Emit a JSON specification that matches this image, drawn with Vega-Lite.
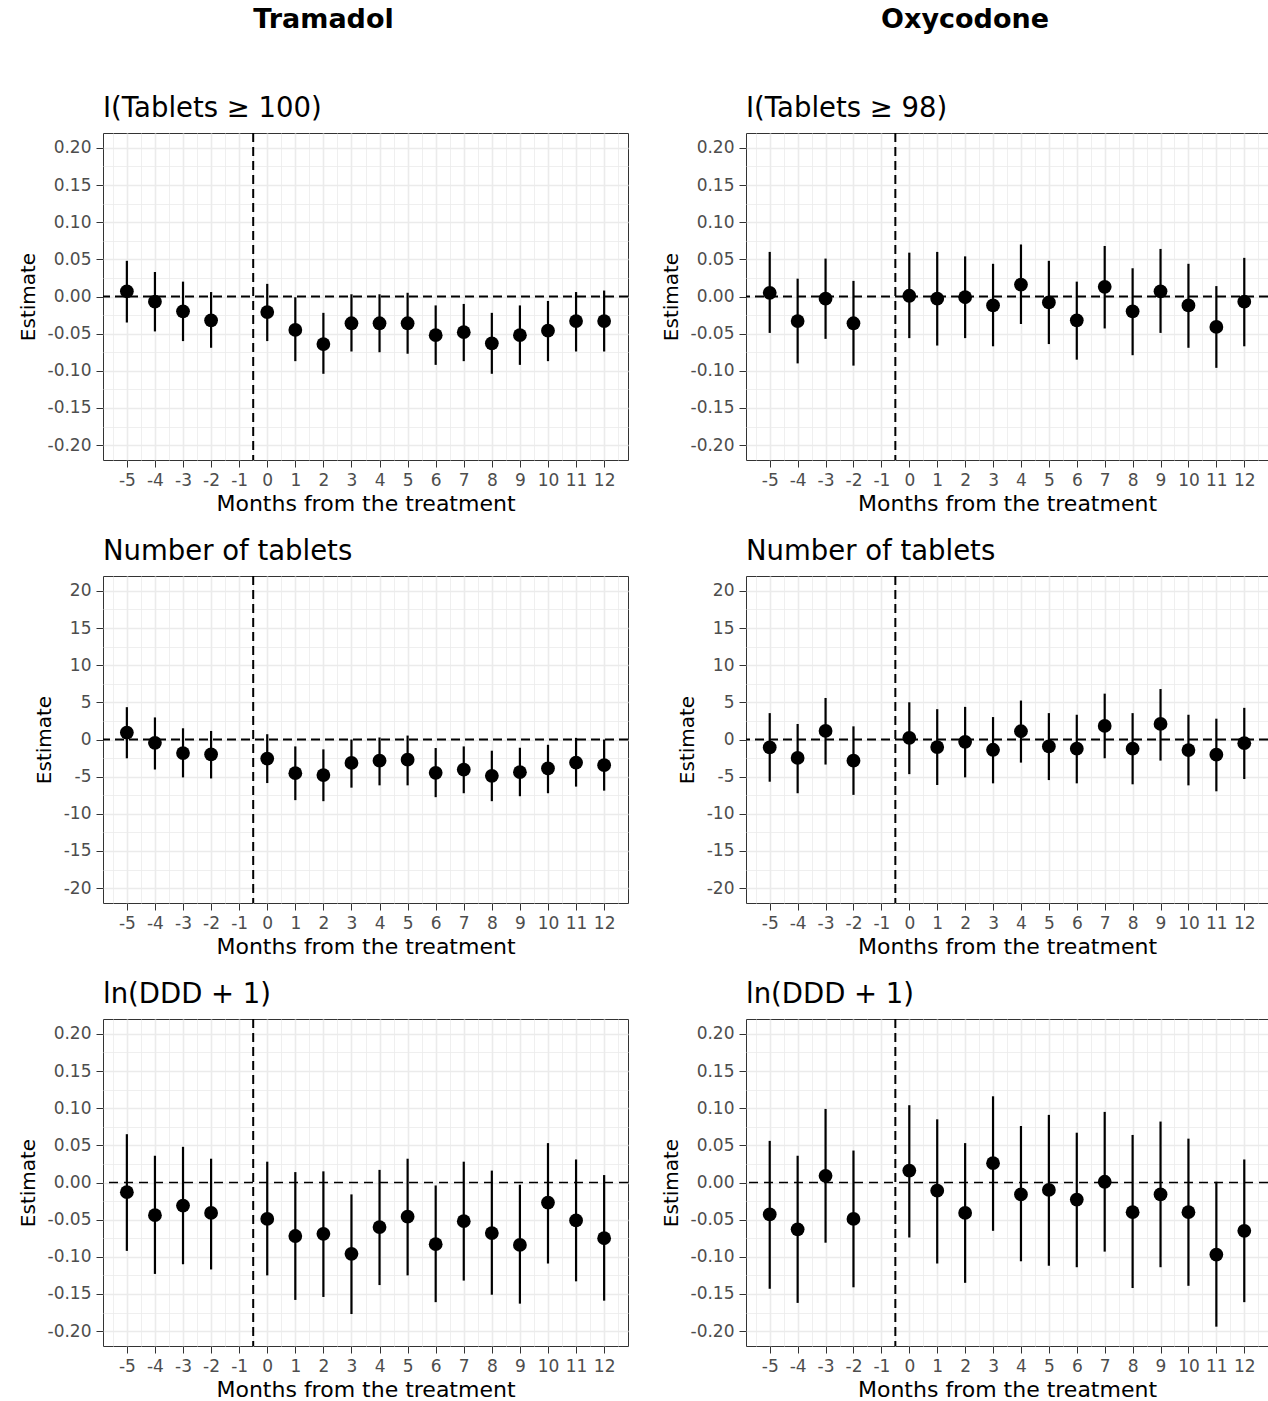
{
  "$schema": "https://vega.github.io/schema/vega-lite/v6.json",
  "background": "white",
  "padding": {"left": 17, "top": 6, "right": 0, "bottom": 0},
  "config": {
    "font": "DejaVu Sans",
    "view": {"stroke": "#333333", "strokeWidth": 1},
    "axis": {
      "domain": false,
      "grid": true,
      "ticks": true,
      "labels": true,
      "labelFont": "DejaVu Sans",
      "labelFontSize": 17,
      "labelColor": "#4D4D4D",
      "tickColor": "#333333",
      "tickSize": 7,
      "tickWidth": 1,
      "labelPadding": 5,
      "gridColor": "#EBEBEB",
      "titleFont": "DejaVu Sans",
      "titleFontWeight": "normal",
      "titleColor": "black",
      "labelOverlap": false,
      "labelFlush": false,
      "labelBound": false
    },
    "title": {"font": "DejaVu Sans", "color": "black"},
    "concat": {"spacing": 30}
  },
  "datasets": {
    "est": [
      {"p": "T1", "m": -5, "est": 0.007, "lo": -0.035, "hi": 0.048},
      {"p": "T1", "m": -4, "est": -0.007, "lo": -0.047, "hi": 0.033},
      {"p": "T1", "m": -3, "est": -0.020, "lo": -0.060, "hi": 0.020},
      {"p": "T1", "m": -2, "est": -0.032, "lo": -0.069, "hi": 0.006},
      {"p": "T1", "m": 0, "est": -0.021, "lo": -0.060, "hi": 0.017},
      {"p": "T1", "m": 1, "est": -0.045, "lo": -0.087, "hi": -0.001},
      {"p": "T1", "m": 2, "est": -0.064, "lo": -0.104, "hi": -0.022},
      {"p": "T1", "m": 3, "est": -0.036, "lo": -0.074, "hi": 0.003},
      {"p": "T1", "m": 4, "est": -0.036, "lo": -0.075, "hi": 0.003},
      {"p": "T1", "m": 5, "est": -0.036, "lo": -0.077, "hi": 0.005},
      {"p": "T1", "m": 6, "est": -0.052, "lo": -0.092, "hi": -0.012},
      {"p": "T1", "m": 7, "est": -0.048, "lo": -0.087, "hi": -0.010},
      {"p": "T1", "m": 8, "est": -0.063, "lo": -0.104, "hi": -0.022},
      {"p": "T1", "m": 9, "est": -0.052, "lo": -0.092, "hi": -0.012},
      {"p": "T1", "m": 10, "est": -0.046, "lo": -0.087, "hi": -0.006},
      {"p": "T1", "m": 11, "est": -0.033, "lo": -0.074, "hi": 0.006},
      {"p": "T1", "m": 12, "est": -0.033, "lo": -0.074, "hi": 0.008},

      {"p": "O1", "m": -5, "est": 0.005, "lo": -0.049, "hi": 0.060},
      {"p": "O1", "m": -4, "est": -0.033, "lo": -0.090, "hi": 0.024},
      {"p": "O1", "m": -3, "est": -0.003, "lo": -0.057, "hi": 0.051},
      {"p": "O1", "m": -2, "est": -0.036, "lo": -0.093, "hi": 0.021},
      {"p": "O1", "m": 0, "est": 0.001, "lo": -0.056, "hi": 0.059},
      {"p": "O1", "m": 1, "est": -0.003, "lo": -0.066, "hi": 0.060},
      {"p": "O1", "m": 2, "est": -0.001, "lo": -0.056, "hi": 0.054},
      {"p": "O1", "m": 3, "est": -0.012, "lo": -0.067, "hi": 0.044},
      {"p": "O1", "m": 4, "est": 0.016, "lo": -0.037, "hi": 0.070},
      {"p": "O1", "m": 5, "est": -0.008, "lo": -0.064, "hi": 0.048},
      {"p": "O1", "m": 6, "est": -0.032, "lo": -0.085, "hi": 0.020},
      {"p": "O1", "m": 7, "est": 0.013, "lo": -0.043, "hi": 0.068},
      {"p": "O1", "m": 8, "est": -0.020, "lo": -0.079, "hi": 0.038},
      {"p": "O1", "m": 9, "est": 0.007, "lo": -0.049, "hi": 0.064},
      {"p": "O1", "m": 10, "est": -0.012, "lo": -0.069, "hi": 0.044},
      {"p": "O1", "m": 11, "est": -0.041, "lo": -0.096, "hi": 0.014},
      {"p": "O1", "m": 12, "est": -0.007, "lo": -0.067, "hi": 0.052},

      {"p": "T2", "m": -5, "est": 0.93, "lo": -2.53, "hi": 4.35},
      {"p": "T2", "m": -4, "est": -0.44, "lo": -4.04, "hi": 2.97},
      {"p": "T2", "m": -3, "est": -1.82, "lo": -5.10, "hi": 1.51},
      {"p": "T2", "m": -2, "est": -2.00, "lo": -5.24, "hi": 1.15},
      {"p": "T2", "m": 0, "est": -2.57, "lo": -5.86, "hi": 0.71},
      {"p": "T2", "m": 1, "est": -4.53, "lo": -8.16, "hi": -0.93},
      {"p": "T2", "m": 2, "est": -4.79, "lo": -8.30, "hi": -1.33},
      {"p": "T2", "m": 3, "est": -3.15, "lo": -6.48, "hi": 0.00},
      {"p": "T2", "m": 4, "est": -2.84, "lo": -6.17, "hi": 0.27},
      {"p": "T2", "m": 5, "est": -2.71, "lo": -6.17, "hi": 0.53},
      {"p": "T2", "m": 6, "est": -4.48, "lo": -7.76, "hi": -1.15},
      {"p": "T2", "m": 7, "est": -4.04, "lo": -7.23, "hi": -0.93},
      {"p": "T2", "m": 8, "est": -4.88, "lo": -8.30, "hi": -1.51},
      {"p": "T2", "m": 9, "est": -4.39, "lo": -7.63, "hi": -1.11},
      {"p": "T2", "m": 10, "est": -3.90, "lo": -7.23, "hi": -0.71},
      {"p": "T2", "m": 11, "est": -3.11, "lo": -6.34, "hi": 0.22},
      {"p": "T2", "m": 12, "est": -3.46, "lo": -6.88, "hi": 0.00},

      {"p": "O2", "m": -5, "est": -1.06, "lo": -5.68, "hi": 3.55},
      {"p": "O2", "m": -4, "est": -2.48, "lo": -7.23, "hi": 2.09},
      {"p": "O2", "m": -3, "est": 1.15, "lo": -3.37, "hi": 5.59},
      {"p": "O2", "m": -2, "est": -2.84, "lo": -7.45, "hi": 1.77},
      {"p": "O2", "m": 0, "est": 0.22, "lo": -4.66, "hi": 5.01},
      {"p": "O2", "m": 1, "est": -1.02, "lo": -6.12, "hi": 4.08},
      {"p": "O2", "m": 2, "est": -0.31, "lo": -5.10, "hi": 4.39},
      {"p": "O2", "m": 3, "est": -1.38, "lo": -5.90, "hi": 3.02},
      {"p": "O2", "m": 4, "est": 1.11, "lo": -3.11, "hi": 5.24},
      {"p": "O2", "m": 5, "est": -0.93, "lo": -5.46, "hi": 3.55},
      {"p": "O2", "m": 6, "est": -1.24, "lo": -5.90, "hi": 3.33},
      {"p": "O2", "m": 7, "est": 1.82, "lo": -2.53, "hi": 6.17},
      {"p": "O2", "m": 8, "est": -1.24, "lo": -6.03, "hi": 3.55},
      {"p": "O2", "m": 9, "est": 2.09, "lo": -2.84, "hi": 6.79},
      {"p": "O2", "m": 10, "est": -1.42, "lo": -6.17, "hi": 3.33},
      {"p": "O2", "m": 11, "est": -2.04, "lo": -6.97, "hi": 2.80},
      {"p": "O2", "m": 12, "est": -0.49, "lo": -5.32, "hi": 4.26},

      {"p": "T3", "m": -5, "est": -0.013, "lo": -0.092, "hi": 0.065},
      {"p": "T3", "m": -4, "est": -0.044, "lo": -0.123, "hi": 0.036},
      {"p": "T3", "m": -3, "est": -0.031, "lo": -0.110, "hi": 0.048},
      {"p": "T3", "m": -2, "est": -0.041, "lo": -0.117, "hi": 0.032},
      {"p": "T3", "m": 0, "est": -0.049, "lo": -0.125, "hi": 0.028},
      {"p": "T3", "m": 1, "est": -0.072, "lo": -0.158, "hi": 0.014},
      {"p": "T3", "m": 2, "est": -0.069, "lo": -0.154, "hi": 0.015},
      {"p": "T3", "m": 3, "est": -0.096, "lo": -0.177, "hi": -0.016},
      {"p": "T3", "m": 4, "est": -0.060, "lo": -0.138, "hi": 0.017},
      {"p": "T3", "m": 5, "est": -0.046, "lo": -0.125, "hi": 0.032},
      {"p": "T3", "m": 6, "est": -0.083, "lo": -0.161, "hi": -0.004},
      {"p": "T3", "m": 7, "est": -0.052, "lo": -0.132, "hi": 0.028},
      {"p": "T3", "m": 8, "est": -0.068, "lo": -0.151, "hi": 0.016},
      {"p": "T3", "m": 9, "est": -0.084, "lo": -0.163, "hi": -0.003},
      {"p": "T3", "m": 10, "est": -0.027, "lo": -0.109, "hi": 0.053},
      {"p": "T3", "m": 11, "est": -0.051, "lo": -0.133, "hi": 0.031},
      {"p": "T3", "m": 12, "est": -0.075, "lo": -0.159, "hi": 0.010},

      {"p": "O3", "m": -5, "est": -0.043, "lo": -0.143, "hi": 0.056},
      {"p": "O3", "m": -4, "est": -0.063, "lo": -0.162, "hi": 0.036},
      {"p": "O3", "m": -3, "est": 0.009, "lo": -0.081, "hi": 0.099},
      {"p": "O3", "m": -2, "est": -0.049, "lo": -0.141, "hi": 0.043},
      {"p": "O3", "m": 0, "est": 0.016, "lo": -0.074, "hi": 0.104},
      {"p": "O3", "m": 1, "est": -0.011, "lo": -0.109, "hi": 0.085},
      {"p": "O3", "m": 2, "est": -0.041, "lo": -0.135, "hi": 0.053},
      {"p": "O3", "m": 3, "est": 0.026, "lo": -0.065, "hi": 0.116},
      {"p": "O3", "m": 4, "est": -0.016, "lo": -0.106, "hi": 0.076},
      {"p": "O3", "m": 5, "est": -0.010, "lo": -0.112, "hi": 0.091},
      {"p": "O3", "m": 6, "est": -0.023, "lo": -0.114, "hi": 0.067},
      {"p": "O3", "m": 7, "est": 0.001, "lo": -0.093, "hi": 0.095},
      {"p": "O3", "m": 8, "est": -0.040, "lo": -0.142, "hi": 0.064},
      {"p": "O3", "m": 9, "est": -0.016, "lo": -0.114, "hi": 0.082},
      {"p": "O3", "m": 10, "est": -0.040, "lo": -0.139, "hi": 0.059},
      {"p": "O3", "m": 11, "est": -0.097, "lo": -0.194, "hi": 0.001},
      {"p": "O3", "m": 12, "est": -0.065, "lo": -0.161, "hi": 0.031}
    ]
  },
  "hconcat": [
    {
      "title": {"text": "Tramadol", "anchor": "middle", "fontSize": 27, "fontWeight": "bold", "offset": 60},
      "spacing": 22,
      "vconcat": [
        {
          "width": 525, "height": 327,
          "title": {"text": "I(Tablets ≥ 100)", "anchor": "start", "frame": "group", "fontSize": 27.5, "fontWeight": "normal", "offset": 10},
          "data": {"name": "est"},
          "transform": [{"filter": "datum.p == 'T1'"}],
          "layer": [
            {"mark": {"type": "rule", "color": "black", "strokeWidth": 2.2},
             "encoding": {
               "x": {"field": "m", "type": "quantitative", "scale": {"domain": [-5.85, 12.85], "nice": false, "zero": false},
                     "axis": {"title": "Months from the treatment", "titleFontSize": 22, "titlePadding": 5, "grid": true, "tickCount": 200,
                              "values": [-5.5,-5,-4.5,-4,-3.5,-3,-2.5,-2,-1.5,-1,-0.5,0,0.5,1,1.5,2,2.5,3,3.5,4,4.5,5,5.5,6,6.5,7,7.5,8,8.5,9,9.5,10,10.5,11,11.5,12,12.5],
                              "labelExpr": "round(datum.value*2) % 2 != 0 ? '' : (datum.value < 0 ? '-' : '') + format(abs(datum.value), 'd')",
                              "gridWidth": {"condition": {"test": "round(datum.value*2) % 2 != 0", "value": 0.8}, "value": 1.6},
                              "tickOpacity": {"condition": {"test": "round(datum.value*2) % 2 != 0", "value": 0}, "value": 1}}},
               "y": {"field": "lo", "type": "quantitative", "scale": {"domain": [-0.22, 0.22], "nice": false, "zero": false},
                     "axis": {"title": "Estimate", "titleFontSize": 20, "titlePadding": 9, "grid": true, "tickCount": 200,
                              "values": [-0.2,-0.175,-0.15,-0.125,-0.1,-0.075,-0.05,-0.025,0,0.025,0.05,0.075,0.1,0.125,0.15,0.175,0.2],
                              "labelExpr": "round(datum.value*40) % 2 != 0 ? '' : (datum.value < -1e-9 ? '-' : '') + format(abs(datum.value), '.2f')",
                              "gridWidth": {"condition": {"test": "round(datum.value*40) % 2 != 0", "value": 0.8}, "value": 1.6},
                              "tickOpacity": {"condition": {"test": "round(datum.value*40) % 2 != 0", "value": 0}, "value": 1}}},
               "y2": {"field": "hi"}
             }},
            {"mark": {"type": "point", "shape": "circle", "filled": true, "size": 190, "color": "black", "opacity": 1},
             "encoding": {"x": {"field": "m", "type": "quantitative"}, "y": {"field": "est", "type": "quantitative"}}},
            {"data": {"values": [{}]}, "mark": {"type": "rule", "color": "black", "strokeWidth": 2, "strokeDash": [9, 5]}, "encoding": {"y": {"datum": 0, "type": "quantitative"}}},
            {"data": {"values": [{}]}, "mark": {"type": "rule", "color": "black", "strokeWidth": 2, "strokeDash": [9, 5]}, "encoding": {"x": {"datum": -0.5, "type": "quantitative"}}}
          ]
        },
        {
          "width": 525, "height": 327,
          "title": {"text": "Number of tablets", "anchor": "start", "frame": "group", "fontSize": 27.5, "fontWeight": "normal", "offset": 10},
          "data": {"name": "est"},
          "transform": [{"filter": "datum.p == 'T2'"}],
          "layer": [
            {"mark": {"type": "rule", "color": "black", "strokeWidth": 2.2},
             "encoding": {
               "x": {"field": "m", "type": "quantitative", "scale": {"domain": [-5.85, 12.85], "nice": false, "zero": false},
                     "axis": {"title": "Months from the treatment", "titleFontSize": 22, "titlePadding": 5, "grid": true, "tickCount": 200,
                              "values": [-5.5,-5,-4.5,-4,-3.5,-3,-2.5,-2,-1.5,-1,-0.5,0,0.5,1,1.5,2,2.5,3,3.5,4,4.5,5,5.5,6,6.5,7,7.5,8,8.5,9,9.5,10,10.5,11,11.5,12,12.5],
                              "labelExpr": "round(datum.value*2) % 2 != 0 ? '' : (datum.value < 0 ? '-' : '') + format(abs(datum.value), 'd')",
                              "gridWidth": {"condition": {"test": "round(datum.value*2) % 2 != 0", "value": 0.8}, "value": 1.6},
                              "tickOpacity": {"condition": {"test": "round(datum.value*2) % 2 != 0", "value": 0}, "value": 1}}},
               "y": {"field": "lo", "type": "quantitative", "scale": {"domain": [-22, 22], "nice": false, "zero": false},
                     "axis": {"title": "Estimate", "titleFontSize": 20, "titlePadding": 9, "grid": true, "tickCount": 200,
                              "values": [-20,-17.5,-15,-12.5,-10,-7.5,-5,-2.5,0,2.5,5,7.5,10,12.5,15,17.5,20],
                              "labelExpr": "round(datum.value/2.5) % 2 != 0 ? '' : (datum.value < 0 ? '-' : '') + format(abs(datum.value), 'd')",
                              "gridWidth": {"condition": {"test": "round(datum.value/2.5) % 2 != 0", "value": 0.8}, "value": 1.6},
                              "tickOpacity": {"condition": {"test": "round(datum.value/2.5) % 2 != 0", "value": 0}, "value": 1}}},
               "y2": {"field": "hi"}
             }},
            {"mark": {"type": "point", "shape": "circle", "filled": true, "size": 190, "color": "black", "opacity": 1},
             "encoding": {"x": {"field": "m", "type": "quantitative"}, "y": {"field": "est", "type": "quantitative"}}},
            {"data": {"values": [{}]}, "mark": {"type": "rule", "color": "black", "strokeWidth": 2, "strokeDash": [9, 5]}, "encoding": {"y": {"datum": 0, "type": "quantitative"}}},
            {"data": {"values": [{}]}, "mark": {"type": "rule", "color": "black", "strokeWidth": 2, "strokeDash": [9, 5]}, "encoding": {"x": {"datum": -0.5, "type": "quantitative"}}}
          ]
        },
        {
          "width": 525, "height": 327,
          "title": {"text": "ln(DDD + 1)", "anchor": "start", "frame": "group", "fontSize": 27.5, "fontWeight": "normal", "offset": 10},
          "data": {"name": "est"},
          "transform": [{"filter": "datum.p == 'T3'"}],
          "layer": [
            {"mark": {"type": "rule", "color": "black", "strokeWidth": 2.2},
             "encoding": {
               "x": {"field": "m", "type": "quantitative", "scale": {"domain": [-5.85, 12.85], "nice": false, "zero": false},
                     "axis": {"title": "Months from the treatment", "titleFontSize": 22, "titlePadding": 5, "grid": true, "tickCount": 200,
                              "values": [-5.5,-5,-4.5,-4,-3.5,-3,-2.5,-2,-1.5,-1,-0.5,0,0.5,1,1.5,2,2.5,3,3.5,4,4.5,5,5.5,6,6.5,7,7.5,8,8.5,9,9.5,10,10.5,11,11.5,12,12.5],
                              "labelExpr": "round(datum.value*2) % 2 != 0 ? '' : (datum.value < 0 ? '-' : '') + format(abs(datum.value), 'd')",
                              "gridWidth": {"condition": {"test": "round(datum.value*2) % 2 != 0", "value": 0.8}, "value": 1.6},
                              "tickOpacity": {"condition": {"test": "round(datum.value*2) % 2 != 0", "value": 0}, "value": 1}}},
               "y": {"field": "lo", "type": "quantitative", "scale": {"domain": [-0.22, 0.22], "nice": false, "zero": false},
                     "axis": {"title": "Estimate", "titleFontSize": 20, "titlePadding": 9, "grid": true, "tickCount": 200,
                              "values": [-0.2,-0.175,-0.15,-0.125,-0.1,-0.075,-0.05,-0.025,0,0.025,0.05,0.075,0.1,0.125,0.15,0.175,0.2],
                              "labelExpr": "round(datum.value*40) % 2 != 0 ? '' : (datum.value < -1e-9 ? '-' : '') + format(abs(datum.value), '.2f')",
                              "gridWidth": {"condition": {"test": "round(datum.value*40) % 2 != 0", "value": 0.8}, "value": 1.6},
                              "tickOpacity": {"condition": {"test": "round(datum.value*40) % 2 != 0", "value": 0}, "value": 1}}},
               "y2": {"field": "hi"}
             }},
            {"mark": {"type": "point", "shape": "circle", "filled": true, "size": 190, "color": "black", "opacity": 1},
             "encoding": {"x": {"field": "m", "type": "quantitative"}, "y": {"field": "est", "type": "quantitative"}}},
            {"data": {"values": [{}]}, "mark": {"type": "rule", "color": "black", "strokeWidth": 1.3, "strokeDash": [9, 6]}, "encoding": {"y": {"datum": 0, "type": "quantitative"}}},
            {"data": {"values": [{}]}, "mark": {"type": "rule", "color": "black", "strokeWidth": 2, "strokeDash": [9, 5]}, "encoding": {"x": {"datum": -0.5, "type": "quantitative"}}}
          ]
        }
      ]
    },
    {
      "title": {"text": "Oxycodone", "anchor": "middle", "fontSize": 27, "fontWeight": "bold", "offset": 60},
      "spacing": 22,
      "vconcat": [
        {
          "width": 522, "height": 327,
          "title": {"text": "I(Tablets ≥ 98)", "anchor": "start", "frame": "group", "fontSize": 27.5, "fontWeight": "normal", "offset": 10},
          "data": {"name": "est"},
          "transform": [{"filter": "datum.p == 'O1'"}],
          "layer": [
            {"mark": {"type": "rule", "color": "black", "strokeWidth": 2.2},
             "encoding": {
               "x": {"field": "m", "type": "quantitative", "scale": {"domain": [-5.85, 12.85], "nice": false, "zero": false},
                     "axis": {"title": "Months from the treatment", "titleFontSize": 22, "titlePadding": 5, "grid": true, "tickCount": 200,
                              "values": [-5.5,-5,-4.5,-4,-3.5,-3,-2.5,-2,-1.5,-1,-0.5,0,0.5,1,1.5,2,2.5,3,3.5,4,4.5,5,5.5,6,6.5,7,7.5,8,8.5,9,9.5,10,10.5,11,11.5,12,12.5],
                              "labelExpr": "round(datum.value*2) % 2 != 0 ? '' : (datum.value < 0 ? '-' : '') + format(abs(datum.value), 'd')",
                              "gridWidth": {"condition": {"test": "round(datum.value*2) % 2 != 0", "value": 0.8}, "value": 1.6},
                              "tickOpacity": {"condition": {"test": "round(datum.value*2) % 2 != 0", "value": 0}, "value": 1}}},
               "y": {"field": "lo", "type": "quantitative", "scale": {"domain": [-0.22, 0.22], "nice": false, "zero": false},
                     "axis": {"title": "Estimate", "titleFontSize": 20, "titlePadding": 9, "grid": true, "tickCount": 200,
                              "values": [-0.2,-0.175,-0.15,-0.125,-0.1,-0.075,-0.05,-0.025,0,0.025,0.05,0.075,0.1,0.125,0.15,0.175,0.2],
                              "labelExpr": "round(datum.value*40) % 2 != 0 ? '' : (datum.value < -1e-9 ? '-' : '') + format(abs(datum.value), '.2f')",
                              "gridWidth": {"condition": {"test": "round(datum.value*40) % 2 != 0", "value": 0.8}, "value": 1.6},
                              "tickOpacity": {"condition": {"test": "round(datum.value*40) % 2 != 0", "value": 0}, "value": 1}}},
               "y2": {"field": "hi"}
             }},
            {"mark": {"type": "point", "shape": "circle", "filled": true, "size": 190, "color": "black", "opacity": 1},
             "encoding": {"x": {"field": "m", "type": "quantitative"}, "y": {"field": "est", "type": "quantitative"}}},
            {"data": {"values": [{}]}, "mark": {"type": "rule", "color": "black", "strokeWidth": 2, "strokeDash": [9, 5]}, "encoding": {"y": {"datum": 0, "type": "quantitative"}}},
            {"data": {"values": [{}]}, "mark": {"type": "rule", "color": "black", "strokeWidth": 2, "strokeDash": [9, 5]}, "encoding": {"x": {"datum": -0.5, "type": "quantitative"}}}
          ]
        },
        {
          "width": 522, "height": 327,
          "title": {"text": "Number of tablets", "anchor": "start", "frame": "group", "fontSize": 27.5, "fontWeight": "normal", "offset": 10},
          "data": {"name": "est"},
          "transform": [{"filter": "datum.p == 'O2'"}],
          "layer": [
            {"mark": {"type": "rule", "color": "black", "strokeWidth": 2.2},
             "encoding": {
               "x": {"field": "m", "type": "quantitative", "scale": {"domain": [-5.85, 12.85], "nice": false, "zero": false},
                     "axis": {"title": "Months from the treatment", "titleFontSize": 22, "titlePadding": 5, "grid": true, "tickCount": 200,
                              "values": [-5.5,-5,-4.5,-4,-3.5,-3,-2.5,-2,-1.5,-1,-0.5,0,0.5,1,1.5,2,2.5,3,3.5,4,4.5,5,5.5,6,6.5,7,7.5,8,8.5,9,9.5,10,10.5,11,11.5,12,12.5],
                              "labelExpr": "round(datum.value*2) % 2 != 0 ? '' : (datum.value < 0 ? '-' : '') + format(abs(datum.value), 'd')",
                              "gridWidth": {"condition": {"test": "round(datum.value*2) % 2 != 0", "value": 0.8}, "value": 1.6},
                              "tickOpacity": {"condition": {"test": "round(datum.value*2) % 2 != 0", "value": 0}, "value": 1}}},
               "y": {"field": "lo", "type": "quantitative", "scale": {"domain": [-22, 22], "nice": false, "zero": false},
                     "axis": {"title": "Estimate", "titleFontSize": 20, "titlePadding": 9, "grid": true, "tickCount": 200,
                              "values": [-20,-17.5,-15,-12.5,-10,-7.5,-5,-2.5,0,2.5,5,7.5,10,12.5,15,17.5,20],
                              "labelExpr": "round(datum.value/2.5) % 2 != 0 ? '' : (datum.value < 0 ? '-' : '') + format(abs(datum.value), 'd')",
                              "gridWidth": {"condition": {"test": "round(datum.value/2.5) % 2 != 0", "value": 0.8}, "value": 1.6},
                              "tickOpacity": {"condition": {"test": "round(datum.value/2.5) % 2 != 0", "value": 0}, "value": 1}}},
               "y2": {"field": "hi"}
             }},
            {"mark": {"type": "point", "shape": "circle", "filled": true, "size": 190, "color": "black", "opacity": 1},
             "encoding": {"x": {"field": "m", "type": "quantitative"}, "y": {"field": "est", "type": "quantitative"}}},
            {"data": {"values": [{}]}, "mark": {"type": "rule", "color": "black", "strokeWidth": 2, "strokeDash": [9, 5]}, "encoding": {"y": {"datum": 0, "type": "quantitative"}}},
            {"data": {"values": [{}]}, "mark": {"type": "rule", "color": "black", "strokeWidth": 2, "strokeDash": [9, 5]}, "encoding": {"x": {"datum": -0.5, "type": "quantitative"}}}
          ]
        },
        {
          "width": 522, "height": 327,
          "title": {"text": "ln(DDD + 1)", "anchor": "start", "frame": "group", "fontSize": 27.5, "fontWeight": "normal", "offset": 10},
          "data": {"name": "est"},
          "transform": [{"filter": "datum.p == 'O3'"}],
          "layer": [
            {"mark": {"type": "rule", "color": "black", "strokeWidth": 2.2},
             "encoding": {
               "x": {"field": "m", "type": "quantitative", "scale": {"domain": [-5.85, 12.85], "nice": false, "zero": false},
                     "axis": {"title": "Months from the treatment", "titleFontSize": 22, "titlePadding": 5, "grid": true, "tickCount": 200,
                              "values": [-5.5,-5,-4.5,-4,-3.5,-3,-2.5,-2,-1.5,-1,-0.5,0,0.5,1,1.5,2,2.5,3,3.5,4,4.5,5,5.5,6,6.5,7,7.5,8,8.5,9,9.5,10,10.5,11,11.5,12,12.5],
                              "labelExpr": "round(datum.value*2) % 2 != 0 ? '' : (datum.value < 0 ? '-' : '') + format(abs(datum.value), 'd')",
                              "gridWidth": {"condition": {"test": "round(datum.value*2) % 2 != 0", "value": 0.8}, "value": 1.6},
                              "tickOpacity": {"condition": {"test": "round(datum.value*2) % 2 != 0", "value": 0}, "value": 1}}},
               "y": {"field": "lo", "type": "quantitative", "scale": {"domain": [-0.22, 0.22], "nice": false, "zero": false},
                     "axis": {"title": "Estimate", "titleFontSize": 20, "titlePadding": 9, "grid": true, "tickCount": 200,
                              "values": [-0.2,-0.175,-0.15,-0.125,-0.1,-0.075,-0.05,-0.025,0,0.025,0.05,0.075,0.1,0.125,0.15,0.175,0.2],
                              "labelExpr": "round(datum.value*40) % 2 != 0 ? '' : (datum.value < -1e-9 ? '-' : '') + format(abs(datum.value), '.2f')",
                              "gridWidth": {"condition": {"test": "round(datum.value*40) % 2 != 0", "value": 0.8}, "value": 1.6},
                              "tickOpacity": {"condition": {"test": "round(datum.value*40) % 2 != 0", "value": 0}, "value": 1}}},
               "y2": {"field": "hi"}
             }},
            {"mark": {"type": "point", "shape": "circle", "filled": true, "size": 190, "color": "black", "opacity": 1},
             "encoding": {"x": {"field": "m", "type": "quantitative"}, "y": {"field": "est", "type": "quantitative"}}},
            {"data": {"values": [{}]}, "mark": {"type": "rule", "color": "black", "strokeWidth": 1.3, "strokeDash": [9, 6]}, "encoding": {"y": {"datum": 0, "type": "quantitative"}}},
            {"data": {"values": [{}]}, "mark": {"type": "rule", "color": "black", "strokeWidth": 2, "strokeDash": [9, 5]}, "encoding": {"x": {"datum": -0.5, "type": "quantitative"}}}
          ]
        }
      ]
    }
  ]
}
